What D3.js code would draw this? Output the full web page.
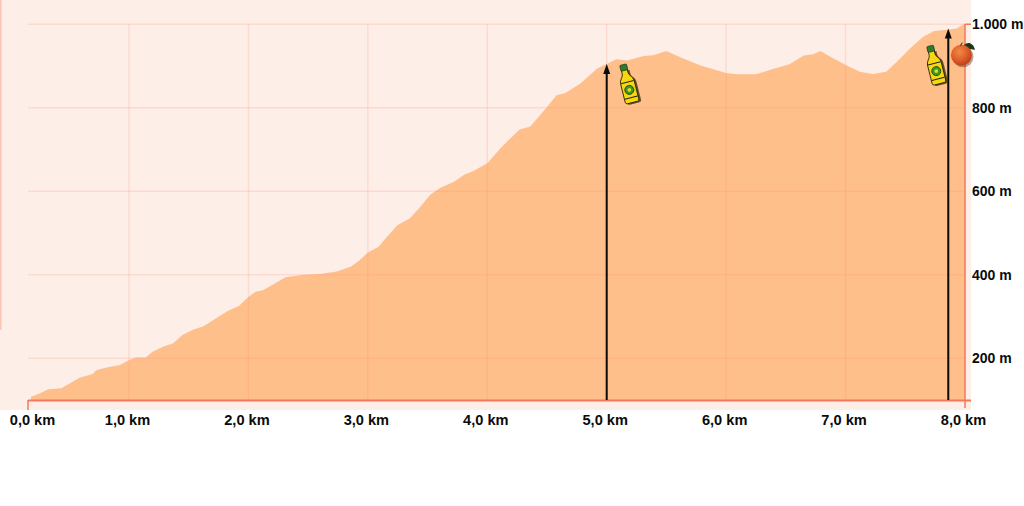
<!DOCTYPE html>
<html><head><meta charset="utf-8">
<style>html,body{margin:0;padding:0;background:#fff;overflow:hidden}svg{display:block}
text{font-family:"Liberation Sans",Arial,sans-serif;font-weight:700;font-size:14px;fill:#0b0b0b}</style>
<script src="https://cdn.jsdelivr.net/npm/d3@7/dist/d3.min.js"></script></head><body>
<script>
const distanceKm=[0.03,0.12,0.20,0.33,0.42,0.51,0.64,0.68,0.78,0.91,1.01,1.06,1.14,1.20,1.29,1.37,1.45,1.54,1.62,1.71,1.83,1.92,2.00,2.06,2.12,2.21,2.31,2.46,2.60,2.74,2.86,2.93,3.00,3.09,3.16,3.25,3.35,3.44,3.52,3.60,3.72,3.81,3.88,4.00,4.11,4.27,4.36,4.50,4.58,4.65,4.78,4.92,5.00,5.08,5.17,5.31,5.39,5.50,5.64,5.78,6.00,6.09,6.25,6.39,6.53,6.65,6.73,6.79,6.90,7.01,7.12,7.23,7.34,7.43,7.54,7.65,7.74,7.85,7.93,8.00];
const elevationM=[108,116,126,128,141,153,162,172,178,184,197,202,202,216,228,236,256,269,276,292,314,325,347,359,363,377,394,400,402,408,420,435,453,467,491,519,535,563,591,607,623,640,648,667,703,748,755,802,830,835,858,894,905,916,913,924,926,936,918,902,883,880,880,893,904,925,928,936,918,901,886,881,886,910,942,970,984,987,990,1002];
const kmTicks=[0,1,2,3,4,5,6,7,8];
const elevTicks=[200,400,600,800,1000];
const arrowKm=[5.0,7.86];
const arrowTopM=[900,985];
const bottleKm=[5.175,7.745];
const bottleM=[859,904];
const appleKm=[7.97];
const appleM=[926];

const W=1024,H=506;
const x=d3.scaleLinear().domain([0,1,8]).range([28,129,965]);
const y=d3.scaleLinear().domain([100,1000]).range([400,24.25]);
const fmtKm=d=>d.toFixed(1).replace('.',',')+' km';
const fmtM=d=>(d===1000?'1.000':d)+' m';
const AX='#f2795c';

const svg=d3.select('body').append('svg').attr('width',W).attr('height',H);
const defs=svg.append('defs');
defs.append('radialGradient').attr('id','apple').attr('cx','.4').attr('cy','.35').attr('r','.7')
 .selectAll('stop').data([['0','#f08a45'],['.6','#dd5a28'],['1','#b53c18']]).join('stop')
 .attr('offset',d=>d[0]).attr('stop-color',d=>d[1]);

svg.append('rect').attr('width',971).attr('height',410).attr('fill','#feeee8');
svg.append('rect').attr('width',1.5).attr('height',330).attr('fill','#fbc4b4');

const pts=distanceKm.map((k,i)=>[k,elevationM[i]]);
svg.append('path').datum(pts).attr('fill','#ffbf8b').attr('d',
  d3.area().x(d=>x(d[0])).y0(y(100)).y1(d=>y(d[1])));

// grid
const grid=svg.append('g').attr('stroke','#f98a72').attr('stroke-opacity',.2).attr('stroke-width',1.5);
grid.selectAll('.v').data(kmTicks.slice(1,8)).join('line').attr('x1',d=>x(d)).attr('x2',d=>x(d)).attr('y1',y(1000)).attr('y2',y(100));
grid.selectAll('.h').data(elevTicks).join('line').attr('x1',x(0)).attr('x2',x(8)).attr('y1',d=>y(d)).attr('y2',d=>y(d));

// axes
const gx=svg.append('g').attr('transform',`translate(0,${y(100)})`)
 .call(d3.axisBottom(x).tickValues(kmTicks).tickFormat(fmtKm).tickSize(0).tickPadding(15));
gx.select('.domain').remove();
gx.selectAll('text').attr('dx',d=>d===0?4:-2).style('font-size','14.6px');
const gy=svg.append('g').attr('transform',`translate(${x(8)},0)`)
 .call(d3.axisRight(y).tickValues(elevTicks).tickFormat(fmtM).tickSize(0).tickPadding(7));
gy.select('.domain').remove();
gy.selectAll('text').attr('dy','.32em');

const ax=svg.append('g').attr('stroke',AX).attr('fill','none');
ax.append('line').attr('x1',x(0)).attr('x2',x(8)+6).attr('y1',y(100)+.5).attr('y2',y(100)+.5).attr('stroke-width',2);
ax.append('line').attr('x1',x(0)).attr('x2',x(0)).attr('y1',y(100)).attr('y2',y(100)+10).attr('stroke-width',1.5);
ax.append('line').attr('x1',x(8)).attr('x2',x(8)).attr('y1',y(1000)).attr('y2',y(100)+8).attr('stroke-width',1.5);
ax.append('line').attr('x1',x(8)).attr('x2',x(8)+6).attr('y1',y(1000)).attr('y2',y(1000)).attr('stroke-width',1.5);

// arrows
arrowKm.forEach((k,i)=>{
  const X=x(k),T=y(arrowTopM[i]);
  svg.append('line').attr('x1',X).attr('x2',X).attr('y1',y(100)).attr('y2',T+4).attr('stroke','#0a0a0a').attr('stroke-width',2);
  svg.append('path').attr('d',d3.line()([[X,T-2],[X-3.5,T+8],[X+3.5,T+8]])+'Z').attr('fill','#0a0a0a');
});

// bottles
function bottle(g){
  const body='M-3,-10 L-3,-14 L3,-14 L3,-10 C3,-7 7,-5 7,-1 L7,18 Q7,20 5,20 L-5,20 Q-7,20 -7,18 L-7,-1 C-7,-5 -3,-7 -3,-10Z';
  g.append('path').attr('d',body).attr('fill','#3a2a10').attr('transform','translate(2,1.5)').attr('opacity',.75);
  g.append('path').attr('d',body).attr('fill','#f7d80e').attr('stroke','#1c1a04').attr('stroke-width',.8);
  g.append('rect').attr('x',-3.5).attr('y',-19).attr('width',7).attr('height',6).attr('rx',1).attr('fill','#2f7a2c').attr('stroke','#123012').attr('stroke-width',.6);
  g.append('line').attr('x1',-6.5).attr('x2',6.5).attr('y1',-1).attr('y2',-1).attr('stroke','#222').attr('stroke-width',1);
  g.append('line').attr('x1',-6.5).attr('x2',6.5).attr('y1',15).attr('y2',15).attr('stroke','#222').attr('stroke-width',1);
  g.append('circle').attr('cy',7).attr('r',4.5).attr('fill','#3f9a22').attr('stroke','#1c3a10').attr('stroke-width',.8);
  g.append('circle').attr('cy',7).attr('r',1.8).attr('fill','#d8e030');
}
bottleKm.forEach((k,i)=>{
  svg.append('g').attr('transform',`translate(${x(k)},${y(bottleM[i])}) rotate(-14)`).call(bottle);
});

// apple
appleKm.forEach((k,i)=>{
  const g=svg.append('g').attr('transform',`translate(${x(k)},${y(appleM[i])}) scale(1.05)`);
  g.append('circle').attr('cx',1.5).attr('cy',1.5).attr('r',10).attr('fill','#6a3a20').attr('opacity',.45);
  g.append('path').attr('d','M2,-9 C5,-13 11,-13 13,-5 C8,-6 4,-6 2,-9Z').attr('fill','#173a1c');
  g.append('circle').attr('r',10).attr('fill','url(#apple)');
  g.append('path').attr('d','M-1,-9 Q0,-11 1,-12').attr('stroke','#5a3010').attr('fill','none');
});
</script></body></html>
